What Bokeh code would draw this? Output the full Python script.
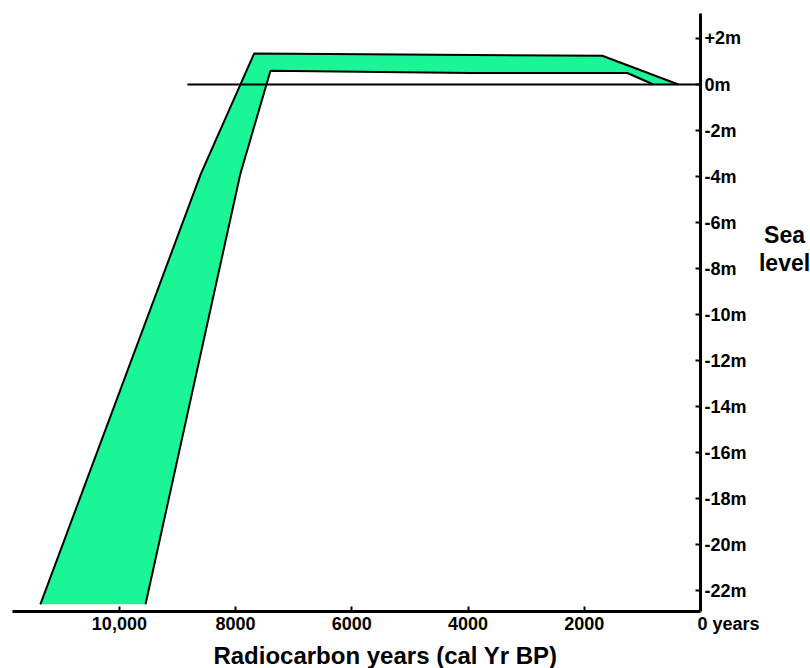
from bokeh.plotting import figure
from bokeh.models import Range1d, FixedTicker, Label
from bokeh.embed import file_html
from bokeh.resources import INLINE

# --- data ---
# outer (upper/left) boundary of the sea-level envelope: years BP, metres
outer_years = [11360, 8600, 7680, 1690, 380]
outer_level = [-22.6, -3.9, 1.35, 1.25, 0.0]
# inner (lower/right) boundary
inner_years = [9550, 7920, 7400, 3960, 1260, 810]
inner_level = [-22.6, -3.9, 0.6, 0.5, 0.5, 0.0]

zero_line_years = [8830, 0]
zero_line_level = [0, 0]

x_ticks = [10000, 8000, 6000, 4000, 2000]
x_tick_labels = ["10,000", "8000", "6000", "4000", "2000"]
y_ticks = [2, 0, -2, -4, -6, -8, -10, -12, -14, -16, -18, -20, -22]
y_tick_labels = ["+2m", "0m", "-2m", "-4m", "-6m", "-8m", "-10m", "-12m",
                 "-14m", "-16m", "-18m", "-20m", "-22m"]

# axis extents (data units)
x_axis_bounds = (0, 11840)
y_axis_bounds = (-22.91, 3.09)

FONT = "Liberation Sans"
GREEN = "#1AF596"

p = figure(width=810, height=668, output_backend="svg", toolbar_location=None,
           x_range=Range1d(12046, -1893), y_range=Range1d(-25.39, 3.652),
           y_axis_location="right",
           min_border_left=0, min_border_right=0, min_border_top=0, min_border_bottom=0)
p.outline_line_color = None
p.xgrid.visible = False
p.ygrid.visible = False
p.background_fill_color = "white"
p.border_fill_color = "white"

# envelope fill
poly_x = outer_years + inner_years[::-1]
poly_y = outer_level + inner_level[::-1]
p.patch(poly_x, poly_y, fill_color=GREEN, line_color=None)
p.line(outer_years, outer_level, line_color="black", line_width=2)
p.line(inner_years, inner_level, line_color="black", line_width=2)

# present sea level line
p.line(zero_line_years, zero_line_level, line_color="black", line_width=2)

# x axis
xa = p.xaxis[0]
xa.fixed_location = y_axis_bounds[0]
xa.bounds = x_axis_bounds
xa.ticker = FixedTicker(ticks=x_ticks)
xa.major_label_overrides = {t: s for t, s in zip(x_ticks, x_tick_labels)}
xa.axis_line_width = 3
xa.axis_line_color = "black"
xa.major_tick_in = 5
xa.major_tick_out = 0
xa.major_tick_line_width = 2
xa.minor_tick_line_color = None
xa.major_label_standoff = 6
xa.major_label_text_font = FONT
xa.major_label_text_font_style = "bold"
xa.major_label_text_font_size = "18px"
xa.major_label_text_color = "black"

# y axis (right)
ya = p.yaxis[0]
ya.fixed_location = x_axis_bounds[0]
ya.bounds = y_axis_bounds
ya.ticker = FixedTicker(ticks=y_ticks)
ya.major_label_overrides = {t: s for t, s in zip(y_ticks, y_tick_labels)}
ya.axis_line_width = 3
ya.axis_line_color = "black"
ya.major_tick_in = 5
ya.major_tick_out = 0
ya.major_tick_line_width = 2
ya.minor_tick_line_color = None
ya.major_label_standoff = 4
ya.major_label_text_font = FONT
ya.major_label_text_font_style = "bold"
ya.major_label_text_font_size = "18px"
ya.major_label_text_color = "black"

def add_label(x, y, text, size, align="center", baseline="alphabetic", x_offset=0):
    p.add_layout(Label(x=x, y=y, text=text, text_font=FONT, text_font_style="bold",
                       text_font_size=size, text_color="black", text_align=align,
                       text_baseline=baseline, x_offset=x_offset))

add_label(0, -23.0, "0 years", "18px", align="left", baseline="top", x_offset=-3)
add_label(5421, -24.82, "Radiocarbon years (cal Yr BP)", "24px")
add_label(-1446, -6.56, "Sea", "23px")
add_label(-1446, -7.74, "level", "23px")

open("out.html", "w").write(file_html(p, INLINE))
